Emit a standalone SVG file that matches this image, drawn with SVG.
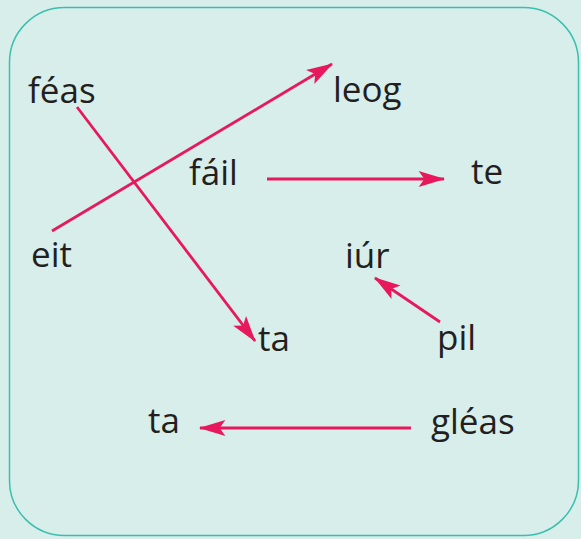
<svg xmlns="http://www.w3.org/2000/svg" width="581" height="539" viewBox="0 0 581 539">
<style>
.w{font-family:"Open Sans","Noto Sans",sans-serif;font-size:35px;fill:#231f20}
.c{stroke:#e8185c;stroke-width:2.8;fill:none;marker-end:url(#ah)}
</style>
<defs>
<marker id="ah" markerUnits="userSpaceOnUse" markerWidth="30" markerHeight="20" viewBox="-24 -8 26 16" refX="0" refY="0" orient="auto">
<path d="M1,0 L-22,-7 L-17,0 L-22,7 Z" fill="#e8185c"/>
</marker>
</defs>
<rect x="0" y="0" width="581" height="539" fill="#d7eeeb"/>
<rect x="9.5" y="7.5" width="569" height="528" rx="55" ry="55" fill="#d7eeeb" stroke="#3cbfae" stroke-width="1.5"/>
<g id="connectors">
<line class="c" x1="77" y1="107" x2="255" y2="341"/>
<line class="c" x1="52" y1="231" x2="332" y2="64"/>
<line class="c" x1="267" y1="179" x2="444" y2="179"/>
<line class="c" x1="440" y1="322" x2="375" y2="278"/>
<line class="c" x1="411" y1="428" x2="200" y2="428"/>
</g>
<g id="n-feas"><text class="w" x="28" y="103">féas</text></g>
<g id="n-leog"><text class="w" x="333" y="102">leog</text></g>
<g id="n-fail"><text class="w" x="189" y="185">fáil</text></g>
<g id="n-te"><text class="w" x="471" y="184">te</text></g>
<g id="n-eit"><text class="w" x="31" y="267">eit</text></g>
<g id="n-iur"><text class="w" x="345" y="268">iúr</text></g>
<g id="n-ta1"><text class="w" x="258" y="351">ta</text></g>
<g id="n-pil"><text class="w" x="437" y="350">pil</text></g>
<g id="n-ta2"><text class="w" x="148" y="433">ta</text></g>
<g id="n-gleas"><text class="w" x="431" y="434">gléas</text></g>
</svg>
